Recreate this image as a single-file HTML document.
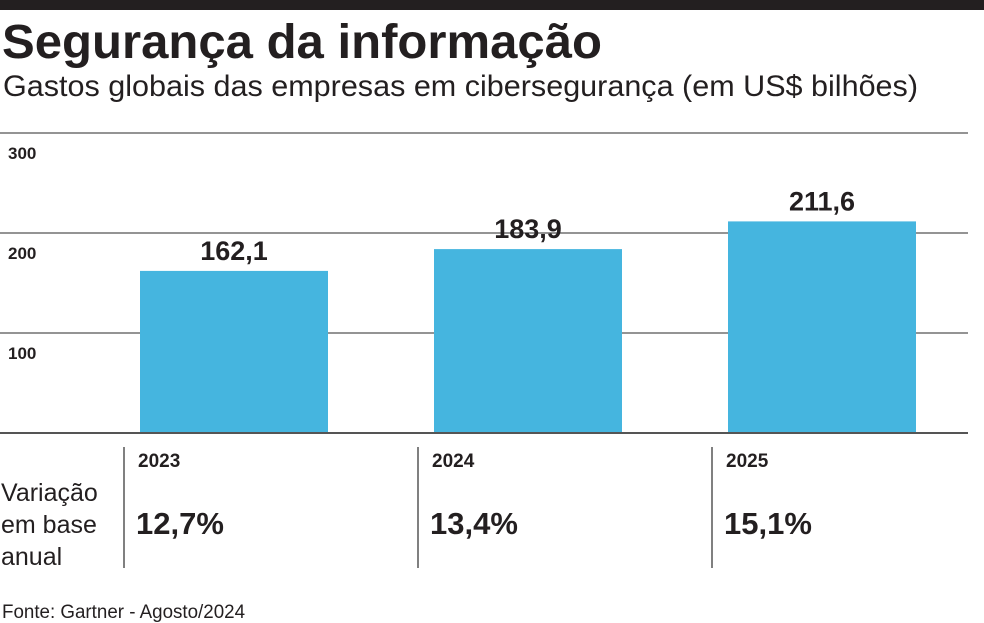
<!DOCTYPE html>
<html><head><meta charset="utf-8"><style>
html,body{margin:0;padding:0;background:#fff;}
svg{display:block;font-family:"Liberation Sans",sans-serif;}
</style></head><body>
<svg id="chart" width="984" height="623" viewBox="0 0 984 623">
<rect x="0" y="0" width="984" height="10" fill="#231f20"/>
<text x="2" y="58" font-size="48" font-weight="bold" fill="#231f20" textLength="600" lengthAdjust="spacingAndGlyphs">Segurança da informação</text>
<text x="3" y="96" font-size="30" fill="#231f20" textLength="915" lengthAdjust="spacingAndGlyphs">Gastos globais das empresas em cibersegurança (em US$ bilhões)</text>
<g id="grid"></g>
<g id="bars"></g>
<g id="table"></g>
<text x="2" y="618" font-size="19" fill="#231f20" textLength="243" lengthAdjust="spacingAndGlyphs">Fonte: Gartner - Agosto/2024</text>
</svg>
<script>
const categories = ["2023","2024","2025"];
const values = [162.1,183.9,211.6];
const valueLabels = ["162,1","183,9","211,6"];
const changes = ["12,7%","13,4%","15,1%"];
const ticks = [100,200,300];
const NS="http://www.w3.org/2000/svg";
const y0=433, yScale=1.0;
function y(v){return y0 - v*yScale;}
function x(i){return 140 + i*294;}
const barW=188;
function mk(tag,attrs,parent){const e=document.createElementNS(NS,tag);for(const k in attrs)e.setAttribute(k,attrs[k]);parent.appendChild(e);return e;}
const grid=document.getElementById('grid'), bars=document.getElementById('bars'), table=document.getElementById('table');
ticks.forEach(t=>{
  const l=mk('line',{x1:0,x2:968,y1:y(t),y2:y(t),stroke:'#555','stroke-width':1.2},grid);
  
  
  const tx=mk('text',{x:8,y:y(t)+26,'font-size':17,'font-weight':'bold',fill:'#231f20'},grid);
  tx.textContent=t;
  
  
});
values.forEach((v,i)=>{
  const r=mk('rect',{x:x(i),y:y(v),width:barW,height:y0-y(v),fill:'#45b5df'},bars);
  
  
  const t=mk('text',{x:x(i)+barW/2,y:y(v)-11,'font-size':27,'font-weight':'bold','text-anchor':'middle',fill:'#231f20'},bars);
  t.textContent=valueLabels[i];
  
  
  const s=mk('line',{x1:x(i)-16,x2:x(i)-16,y1:447,y2:568,stroke:'#555','stroke-width':1.5},table);
  
  
  const yr=mk('text',{x:x(i)-2,y:467,'font-size':19,'font-weight':'bold',fill:'#231f20'},table);
  yr.textContent=categories[i];
  
  
  const c=mk('text',{x:x(i)-4,y:534,'font-size':31,'font-weight':'bold',fill:'#231f20'},table);
  c.textContent=changes[i];
  
  
});
const base=mk('line',{x1:0,x2:968,y1:y0,y2:y0,stroke:'#555','stroke-width':2},bars);


["Variação","em base","anual"].forEach((s,i)=>{
  const t=mk('text',{x:1,y:501+i*32,'font-size':25,fill:'#231f20'},table);
  t.textContent=s;
  
  
});
</script>
</body></html>
